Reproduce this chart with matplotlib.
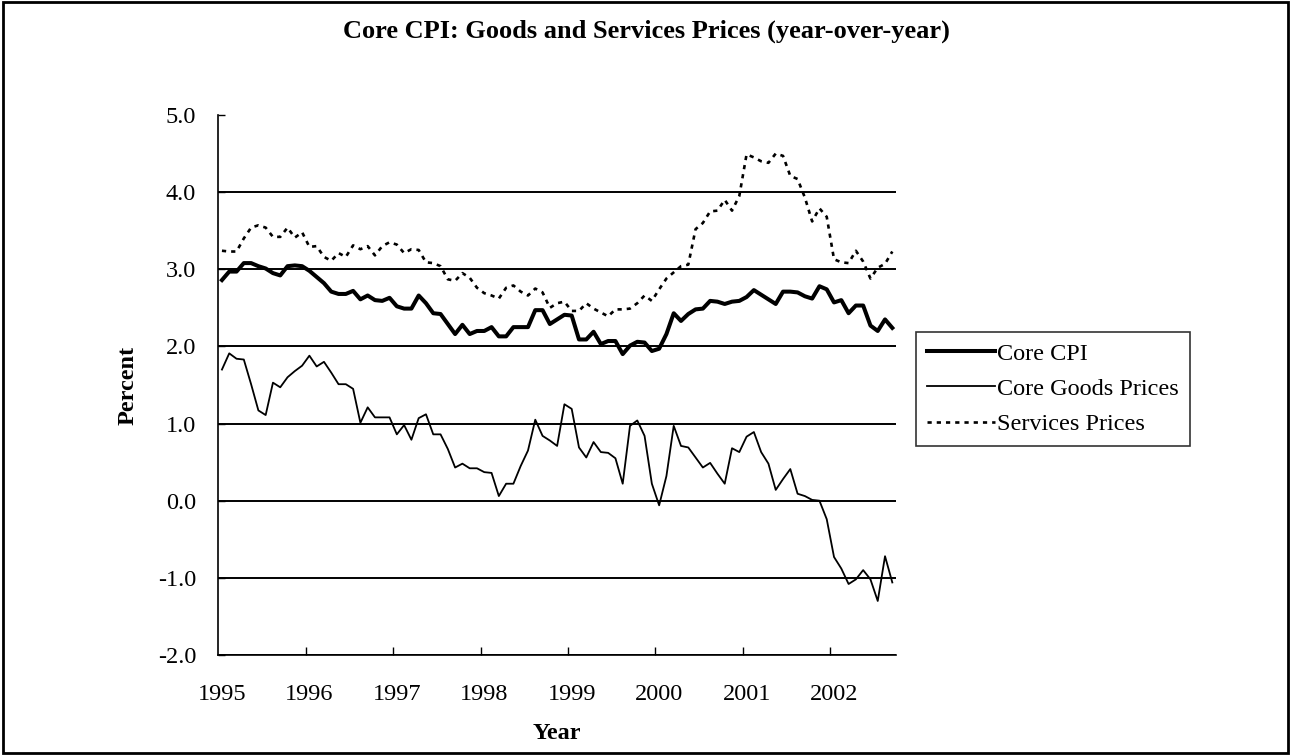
import matplotlib
matplotlib.use('Agg')
import matplotlib.pyplot as plt
import numpy as np
from matplotlib.patches import Rectangle
from matplotlib.ticker import FixedLocator, FormatStrFormatter

plt.rcParams['font.family'] = ['Liberation Serif', 'DejaVu Serif']

# monthly, Jan 1995 - Sep 2002
core_cpi = [2.86, 2.97, 2.97, 3.08, 3.08, 3.04, 3.01, 2.95, 2.92, 3.04, 3.05, 3.04,
            2.98, 2.90, 2.82, 2.71, 2.68, 2.68, 2.72, 2.61, 2.66, 2.60, 2.59, 2.63,
            2.52, 2.49, 2.49, 2.66, 2.56, 2.43, 2.42, 2.29, 2.16, 2.28, 2.16, 2.20,
            2.20, 2.25, 2.13, 2.13, 2.25, 2.25, 2.25, 2.47, 2.47, 2.29, 2.35, 2.41,
            2.40, 2.09, 2.09, 2.19, 2.03, 2.07, 2.07, 1.90, 2.01, 2.06, 2.05, 1.94,
            1.97, 2.16, 2.43, 2.33, 2.42, 2.48, 2.49, 2.59, 2.58, 2.55, 2.58, 2.59,
            2.64, 2.73, 2.67, 2.61, 2.55, 2.71, 2.71, 2.70, 2.65, 2.62, 2.78, 2.74,
            2.57, 2.60, 2.43, 2.53, 2.53, 2.27, 2.20, 2.35, 2.24]

core_goods = [1.70, 1.91, 1.84, 1.83, 1.51, 1.17, 1.11, 1.53, 1.47, 1.60, 1.68, 1.75,
              1.88, 1.74, 1.80, 1.66, 1.51, 1.51, 1.45, 1.01, 1.21, 1.08, 1.08, 1.08,
              0.86, 0.98, 0.79, 1.07, 1.12, 0.86, 0.86, 0.67, 0.43, 0.48, 0.42, 0.42,
              0.37, 0.36, 0.06, 0.22, 0.22, 0.45, 0.65, 1.05, 0.84, 0.78, 0.71, 1.25,
              1.19, 0.69, 0.56, 0.76, 0.63, 0.62, 0.55, 0.22, 0.97, 1.04, 0.84, 0.22,
              -0.06, 0.32, 0.97, 0.71, 0.69, 0.56, 0.43, 0.49, 0.35, 0.22, 0.68, 0.63,
              0.83, 0.89, 0.63, 0.48, 0.14, 0.28, 0.41, 0.09, 0.06, 0.01, 0.00, -0.24,
              -0.73, -0.88, -1.08, -1.02, -0.90, -1.02, -1.30, -0.72, -1.06]

services = [3.24, 3.23, 3.23, 3.40, 3.54, 3.57, 3.54, 3.42, 3.42, 3.54, 3.41, 3.48,
            3.29, 3.30, 3.16, 3.11, 3.21, 3.16, 3.31, 3.26, 3.30, 3.18, 3.30, 3.35,
            3.32, 3.21, 3.26, 3.25, 3.09, 3.08, 3.04, 2.87, 2.85, 2.95, 2.89, 2.76,
            2.69, 2.66, 2.62, 2.76, 2.79, 2.71, 2.66, 2.75, 2.70, 2.50, 2.56, 2.58,
            2.46, 2.46, 2.56, 2.49, 2.44, 2.39, 2.48, 2.48, 2.49, 2.56, 2.66, 2.59,
            2.74, 2.88, 2.96, 3.04, 3.06, 3.52, 3.60, 3.75, 3.76, 3.90, 3.76, 3.95,
            4.49, 4.45, 4.40, 4.38, 4.50, 4.47, 4.21, 4.17, 3.93, 3.62, 3.79, 3.68,
            3.13, 3.09, 3.08, 3.24, 3.10, 2.88, 3.02, 3.07, 3.23]

years = [1995, 1996, 1997, 1998, 1999, 2000, 2001, 2002]
x = 1995 + np.arange(len(core_cpi)) / 12.0

fig = plt.figure(figsize=(12.91, 7.55), dpi=100)
ax = fig.add_axes([0.1691, 0.1325, 0.5249, 0.7152])

ax.plot(x, core_cpi, c='black', lw=2.9, label='Core CPI', solid_joinstyle='round')
ax.plot(x, core_goods, c='black', lw=1.3, label='Core Goods Prices')
ax.plot(x, services, c='black', lw=1.9, ls=(0, (1.6, 1.9)), label='Services Prices')

ax.set_xlim(1995 - 0.5 / 12, 1995 + 92.5 / 12)
ax.set_ylim(-2.0, 5.0)

ax.set_yticks(np.arange(-2, 6, 1))
ax.yaxis.set_major_formatter(FormatStrFormatter('%.1f'))
ax.set_xticks(years)
ax.set_xticklabels([str(y) for y in years])
ax.xaxis.set_minor_locator(FixedLocator([y - 0.5 / 12 for y in years[1:]]))
ax.tick_params(axis='x', which='major', length=0, pad=21, labelsize=17.5)
ax.tick_params(axis='x', which='minor', direction='in', length=6, width=1)
ax.tick_params(axis='y', direction='in', length=5, width=1, pad=16, labelsize=17.5)

ax.grid(axis='y', color='black', lw=1.4)
ax.yaxis.get_gridlines()[-1].set_visible(False)

for side in ['top', 'right']:
    ax.spines[side].set_visible(False)
for side in ['left', 'bottom']:
    ax.spines[side].set_linewidth(1.2)

ax.set_xlabel('Year', fontsize=17.5, fontweight='bold', labelpad=13)
ax.set_ylabel('Percent', fontsize=17.5, fontweight='bold', labelpad=14)
fig.suptitle('Core CPI: Goods and Services Prices (year-over-year)',
             fontsize=19, fontweight='bold', x=0.501, y=0.958, va='center')

leg = ax.legend(loc='upper left', bbox_to_anchor=(0.7095, 0.5607),
                bbox_transform=fig.transFigure, fontsize=17.5, frameon=True,
                fancybox=False, edgecolor='black', handlelength=2.8,
                handletextpad=0.1, borderpad=0.45, labelspacing=0.55,
                borderaxespad=0)
leg.get_frame().set_linewidth(1.2)

fig.patches.append(Rectangle((0.002, 0.003), 0.996, 0.994, transform=fig.transFigure,
                             fill=False, lw=2, edgecolor='black'))

fig.savefig('out.png', dpi=100)
